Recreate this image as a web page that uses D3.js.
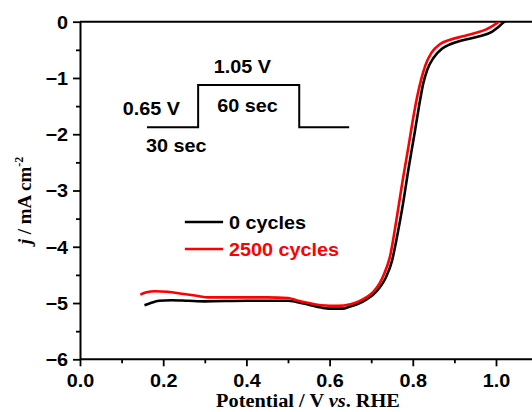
<!DOCTYPE html>
<html><head><meta charset="utf-8">
<script src="https://cdn.jsdelivr.net/npm/d3@7"></script>
<style>
html,body{margin:0;padding:0;background:#fff;overflow:hidden}
svg{display:block}
</style></head>
<body>
<svg id="c" width="532" height="412"></svg>
<script>
// ---- data ----
const xTicksMajor = [0.0, 0.2, 0.4, 0.6, 0.8, 1.0];
const xTicksMinor = [0.1, 0.3, 0.5, 0.7, 0.9];
const yTicksMajor = [0, -1, -2, -3, -4, -5, -6];
const yTicksMinor = [-0.5, -1.5, -2.5, -3.5, -4.5, -5.5];
const seriesNames = ["0 cycles", "2500 cycles"];
const seriesColors = ["#000000", "#ff0000"];
const cycles0 = [[0.155,-5.04],[0.17,-5.0],[0.19,-4.96],[0.22,-4.95],[0.26,-4.96],[0.30,-4.97],[0.40,-4.96],[0.50,-4.96],[0.52,-4.98],[0.55,-5.03],[0.58,-5.08],[0.60,-5.10],[0.63,-5.10],[0.65,-5.06],[0.67,-5.01],[0.69,-4.93],[0.705,-4.85],[0.72,-4.73],[0.735,-4.55],[0.75,-4.25],[0.76,-3.90],[0.775,-3.30],[0.79,-2.60],[0.805,-1.95],[0.815,-1.50],[0.825,-1.10],[0.835,-0.85],[0.85,-0.64],[0.87,-0.48],[0.89,-0.40],[0.92,-0.33],[0.96,-0.26],[0.99,-0.18],[1.005,-0.10],[1.02,0.0],[1.03,0.05]];
const cycles2500 = [[0.145,-4.85],[0.16,-4.81],[0.18,-4.79],[0.21,-4.80],[0.25,-4.84],[0.28,-4.87],[0.31,-4.90],[0.35,-4.90],[0.40,-4.90],[0.45,-4.90],[0.50,-4.91],[0.52,-4.95],[0.55,-5.00],[0.58,-5.04],[0.62,-5.05],[0.65,-5.02],[0.67,-4.97],[0.69,-4.89],[0.705,-4.80],[0.72,-4.65],[0.73,-4.50],[0.745,-4.18],[0.76,-3.55],[0.775,-2.85],[0.79,-2.20],[0.80,-1.75],[0.81,-1.35],[0.82,-1.03],[0.83,-0.78],[0.845,-0.55],[0.865,-0.40],[0.89,-0.32],[0.92,-0.26],[0.95,-0.20],[0.975,-0.14],[0.995,-0.06],[1.01,0.02]];
// inset potential-step waveform (in axis units)
const insetStep = [[0.161,-1.877],[0.284,-1.877],[0.284,-1.125],[0.527,-1.125],[0.527,-1.877],[0.647,-1.877]];
const insetLabels = [
  {t:"1.05 V", x:0.39, y:-0.917, a:"middle"},
  {t:"0.65 V", x:0.1026, y:-1.658, a:"start"},
  {t:"60 sec", x:0.4026, y:-1.605, a:"middle"},
  {t:"30 sec", x:0.1587, y:-2.316, a:"start"}
];
const legendY = [-3.56, -4.04];

// ---- layout ----
const svg = d3.select("#c");
const x = d3.scaleLinear().domain([0, 1.1]).range([80, 537.6]);
const y = d3.scaleLinear().domain([0, -6]).range([21.7, 359.3]);
const SANS = "'Liberation Sans', Arial, sans-serif";
const SERIF = "'Liberation Serif', 'Times New Roman', serif";
const SX = 1.1;

svg.append("defs").append("clipPath").attr("id","clip")
  .append("rect").attr("x", x(0)).attr("y", y(0)).attr("width", x(1.1)-x(0)).attr("height", y(-6)-y(0));

// frame top
svg.append("line").attr("x1", x(0)).attr("x2", x(1.1)).attr("y1", y(0)).attr("y2", y(0))
  .attr("stroke","#000").attr("stroke-width",2);

// axes
const gx = svg.append("g").attr("transform", `translate(0,${y(-6)})`);
gx.call(d3.axisBottom(x).tickValues(xTicksMajor).tickFormat(d3.format(".1f")).tickSize(7).tickSizeOuter(0));
gx.append("g").call(d3.axisBottom(x).tickValues(xTicksMinor).tickFormat("").tickSize(4).tickSizeOuter(0))
  .select(".domain").remove();
const gy = svg.append("g").attr("transform", `translate(${x(0)},0)`);
gy.call(d3.axisLeft(y).tickValues(yTicksMajor).tickFormat(d3.format("d")).tickSize(7).tickSizeOuter(0));
gy.append("g").call(d3.axisLeft(y).tickValues(yTicksMinor).tickFormat("").tickSize(4).tickSizeOuter(0))
  .select(".domain").remove();

svg.selectAll(".domain").attr("stroke","#000").attr("stroke-width",2);
svg.selectAll(".tick line").attr("stroke","#000").attr("stroke-width",1.8);
gx.selectAll(".tick text").attr("font-family",SANS).attr("font-weight","bold").attr("font-size",18)
  .attr("fill","#000").attr("y",0).attr("dy",0).attr("transform",`translate(0,27.5) scale(${SX},1)`);
gy.selectAll(".tick text").attr("font-family",SANS).attr("font-weight","bold").attr("font-size",18)
  .attr("fill","#000").attr("x",0).attr("dy","0.35em").attr("transform",`translate(-12,0) scale(${SX},1)`);
gx.select(".domain").attr("d", `M${x(0)},0H${x(1.1)}`);

// axis titles
const xt = svg.append("text").attr("transform",`translate(308,406.5) scale(1.07,1)`)
  .attr("text-anchor","middle").attr("font-family",SERIF).attr("font-weight","bold").attr("font-size",19);
xt.append("tspan").text("Potential / V ");
xt.append("tspan").attr("font-style","italic").text("vs");
xt.append("tspan").text(". RHE");

const yt = svg.append("text").attr("transform",`translate(31,${(y(0)+y(-6))/2 + 10}) rotate(-90)`)
  .attr("text-anchor","middle").attr("font-family",SERIF).attr("font-weight","bold").attr("font-size",19);
yt.append("tspan").attr("font-style","italic").text("j");
yt.append("tspan").text(" / mA cm");
yt.append("tspan").attr("font-size",12).attr("dy",-8).text("-2");

// curves
const line = d3.line().x(d => x(d[0])).y(d => y(d[1]));
const curveLine = d3.line().x(d => x(d[0])).y(d => y(d[1])).curve(d3.curveMonotoneX);
const plot = svg.append("g").attr("clip-path","url(#clip)");
[cycles0, cycles2500].forEach((s,i) => {
  plot.append("path").datum(s).attr("d", curveLine).attr("fill","none")
    .attr("stroke", seriesColors[i]).attr("stroke-width",2.6).attr("stroke-linejoin","round");
});

// inset
svg.append("path").datum(insetStep).attr("d", line).attr("fill","none").attr("stroke","#000").attr("stroke-width",2);
insetLabels.forEach(l => {
  svg.append("text").attr("transform",`translate(${x(l.x)},${y(l.y)}) scale(${SX},1)`)
    .attr("text-anchor", l.a).attr("font-family",SANS).attr("font-weight","bold").attr("font-size",18).text(l.t);
});

// legend
seriesNames.forEach((n,i) => {
  svg.append("line").attr("x1", x(0.252)).attr("x2", x(0.344)).attr("y1", y(legendY[i])).attr("y2", y(legendY[i]))
    .attr("stroke", seriesColors[i]).attr("stroke-width",2.6);
  svg.append("text").attr("transform",`translate(${x(0.358)},${y(legendY[i])+6.5}) scale(${SX},1)`)
    .attr("font-family",SANS).attr("font-weight","bold").attr("font-size",18).attr("fill", seriesColors[i]).text(n);
});
</script>
</body></html>
